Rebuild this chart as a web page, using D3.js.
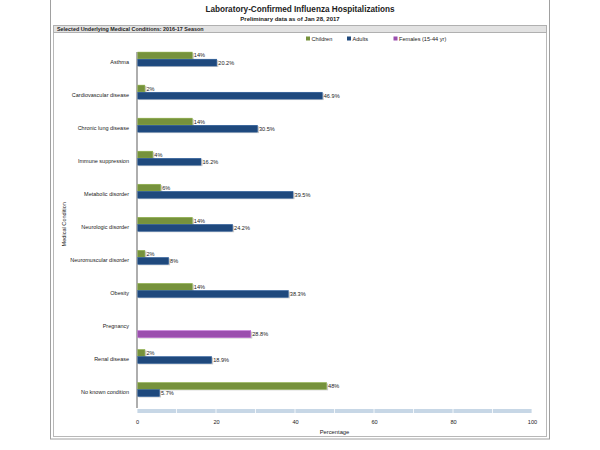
<!DOCTYPE html>
<html>
<head>
<meta charset="utf-8">
<script src="https://cdn.jsdelivr.net/npm/d3@7/dist/d3.min.js"></script>
<style>
  body { margin: 0; background: #fff; }
  text { font-family: Arial, "Liberation Sans", sans-serif; fill: #222; }
</style>
</head>
<body>
<div id="chart"></div>
<script>
const conditions = ["Asthma", "Cardiovascular disease", "Chronic lung disease", "Immune suppression",
    "Metabolic disorder", "Neurologic disorder", "Neuromuscular disorder", "Obesity",
    "Pregnancy", "Renal disease", "No known condition"];
const children = [14, 2, 14, 4, 6, 14, 2, 14, null, 2, 48];
const adults = [20.2, 46.9, 30.5, 16.2, 39.5, 24.2, 8, 38.3, null, 18.9, 5.7];
const females = [null, null, null, null, null, null, null, null, 28.8, null, null];
const childLabels = ["14%", "2%", "14%", "4%", "6%", "14%", "2%", "14%", null, "2%", "48%"];
const adultLabels = ["20.2%", "46.9%", "30.5%", "16.2%", "39.5%", "24.2%", "8%", "38.3%", null, "18.9%", "5.7%"];
const femaleLabels = [null, null, null, null, null, null, null, null, "28.8%", null, null];
const xTicks = [0, 20, 40, 60, 80, 100];

const WIDTH = 600;
const HEIGHT = 450;
const PLOT_LEFT = 137;
const PLOT_RIGHT = 532;
const PLOT_TOP = 44.5;
const PLOT_BOTTOM = 404;
const AXIS_Y = 409;

const colors = { children: "#76923c", adults: "#1f497d", females: "#9b4fae" };
const slots = { children: "a", adults: "b", females: "c" };

let svg = d3.select("#chart")
    .append("svg")
    .attr("width", WIDTH)
    .attr("height", HEIGHT);

// frame
svg.append("rect")
    .attr("x", 50.5).attr("y", -2)
    .attr("width", 499).attr("height", 441)
    .attr("fill", "none").attr("stroke", "#a0a0a0");
svg.append("rect")
    .attr("x", 53.5).attr("y", 25.5)
    .attr("width", 493).attr("height", 411)
    .attr("fill", "none").attr("stroke", "#b8b8b8");

// header bar
svg.append("rect")
    .attr("x", 53.5).attr("y", 25.5)
    .attr("width", 493).attr("height", 7)
    .attr("fill", "#e2e2e2").attr("stroke", "#b0b0b0");
svg.append("text")
    .attr("x", 57).attr("y", 31)
    .attr("font-size", 5.4).attr("font-weight", "bold")
    .text("Selected Underlying Medical Conditions: 2016-17 Season");

// titles
svg.append("text")
    .attr("x", 300).attr("y", 12)
    .attr("text-anchor", "middle")
    .attr("font-size", 8.2).attr("font-weight", "bold")
    .text("Laboratory-Confirmed Influenza Hospitalizations");
svg.append("text")
    .attr("x", 290).attr("y", 20.5)
    .attr("text-anchor", "middle")
    .attr("font-size", 6).attr("font-weight", "bold")
    .text("Preliminary data as of Jan 28, 2017");

// legend
let legendItems = [
    { key: "children", label: "Children", x: 306 },
    { key: "adults", label: "Adults", x: 347 },
    { key: "females", label: "Females (15-44 yr)", x: 393.5 }
];
let legend = svg.append("g");
legend.selectAll("rect")
    .data(legendItems)
    .enter().append("rect")
    .attr("x", d => d.x).attr("y", 36.5)
    .attr("width", 4).attr("height", 4)
    .attr("fill", d => colors[d.key]);
legend.selectAll("text")
    .data(legendItems)
    .enter().append("text")
    .attr("x", d => d.x + 5.5).attr("y", 40.5)
    .attr("font-size", 5.6)
    .attr("fill", "#333")
    .text(d => d.label);

let xScale = d3.scaleLinear()
    .domain([0, 100])
    .range([PLOT_LEFT, PLOT_RIGHT]);

let yScale = d3.scaleBand()
    .domain(conditions)
    .range([PLOT_TOP, PLOT_BOTTOM])
    .paddingInner(0.56)
    .paddingOuter(0.22);

// two bar slots per condition; females sit one slot further down
let ySub = d3.scaleBand()
    .domain(["a", "b"])
    .range([0, yScale.bandwidth()])
    .padding(0.04);
function slotY(key) {
    if (slots[key] === "c") return ySub("b") + ySub.step();
    return ySub(slots[key]);
}

// x axis band
svg.append("rect")
    .attr("x", xScale(0)).attr("y", AXIS_Y)
    .attr("width", xScale(100) - xScale(0)).attr("height", 4)
    .attr("fill", "#c7d7e6");
svg.append("g")
    .selectAll("line")
    .data(d3.range(0, 101, 10))
    .enter().append("line")
    .attr("x1", d => xScale(d)).attr("x2", d => xScale(d))
    .attr("y1", AXIS_Y).attr("y2", AXIS_Y + 4)
    .attr("stroke", "#fff").attr("stroke-width", 0.8);

let xAxis = svg.append("g")
    .attr("transform", "translate(0," + (AXIS_Y + 4) + ")")
    .call(d3.axisBottom(xScale).tickValues(xTicks).tickSize(0).tickPadding(7));
xAxis.select(".domain").remove();
xAxis.selectAll("text")
    .attr("font-size", 5.6)
    .attr("fill", "#333")
    .attr("font-family", "Arial, 'Liberation Sans', sans-serif");

svg.append("text")
    .attr("x", (PLOT_LEFT + PLOT_RIGHT) / 2).attr("y", 434)
    .attr("text-anchor", "middle")
    .attr("font-size", 5.8)
    .attr("fill", "#333")
    .text("Percentage");

// y axis
svg.append("line")
    .attr("x1", PLOT_LEFT).attr("x2", PLOT_LEFT)
    .attr("y1", 52).attr("y2", AXIS_Y - 1)
    .attr("stroke", "#9a9a9a").attr("stroke-width", 1.6);

svg.append("g")
    .selectAll("text")
    .data(conditions)
    .enter().append("text")
    .attr("x", 129)
    .attr("y", d => yScale(d) + yScale.bandwidth() / 2 + 4.5)
    .attr("text-anchor", "end")
    .attr("font-size", 5.5)
    .attr("fill", "#333")
    .text(d => d);

svg.append("text")
    .attr("transform", "translate(66," + (PLOT_TOP + PLOT_BOTTOM) / 2 + ")rotate(-90)")
    .attr("text-anchor", "middle")
    .attr("font-size", 5.6)
    .attr("fill", "#333")
    .text("Medical Condition");

// bars
let rows = [];
conditions.forEach((c, i) => {
    if (children[i] !== null) rows.push({ cond: c, key: "children", value: children[i], label: childLabels[i] });
    if (adults[i] !== null) rows.push({ cond: c, key: "adults", value: adults[i], label: adultLabels[i] });
    if (females[i] !== null) rows.push({ cond: c, key: "females", value: females[i], label: femaleLabels[i] });
});

let bars = svg.append("g")
    .selectAll("g")
    .data(rows)
    .enter().append("g")
    .attr("transform", d => "translate(0," + (yScale(d.cond) + slotY(d.key)) + ")");

// shadow
bars.append("rect")
    .attr("x", xScale(0) + 1.5)
    .attr("y", 1)
    .attr("width", d => xScale(d.value) - xScale(0))
    .attr("height", ySub.bandwidth())
    .attr("fill", "#c8c8c8");

bars.append("rect")
    .attr("x", xScale(0) + 0.8)
    .attr("y", 0)
    .attr("width", d => xScale(d.value) - xScale(0) - 0.8)
    .attr("height", ySub.bandwidth())
    .attr("fill", d => colors[d.key])
    .attr("stroke", d => d3.color(colors[d.key]).brighter(0.6))
    .attr("stroke-width", 0.5);

bars.append("text")
    .attr("x", d => xScale(d.value) + 1.5)
    .attr("y", ySub.bandwidth() / 2 + 2)
    .attr("font-size", 5.6)
    .attr("fill", "#333")
    .text(d => d.label);
</script>
</body>
</html>
